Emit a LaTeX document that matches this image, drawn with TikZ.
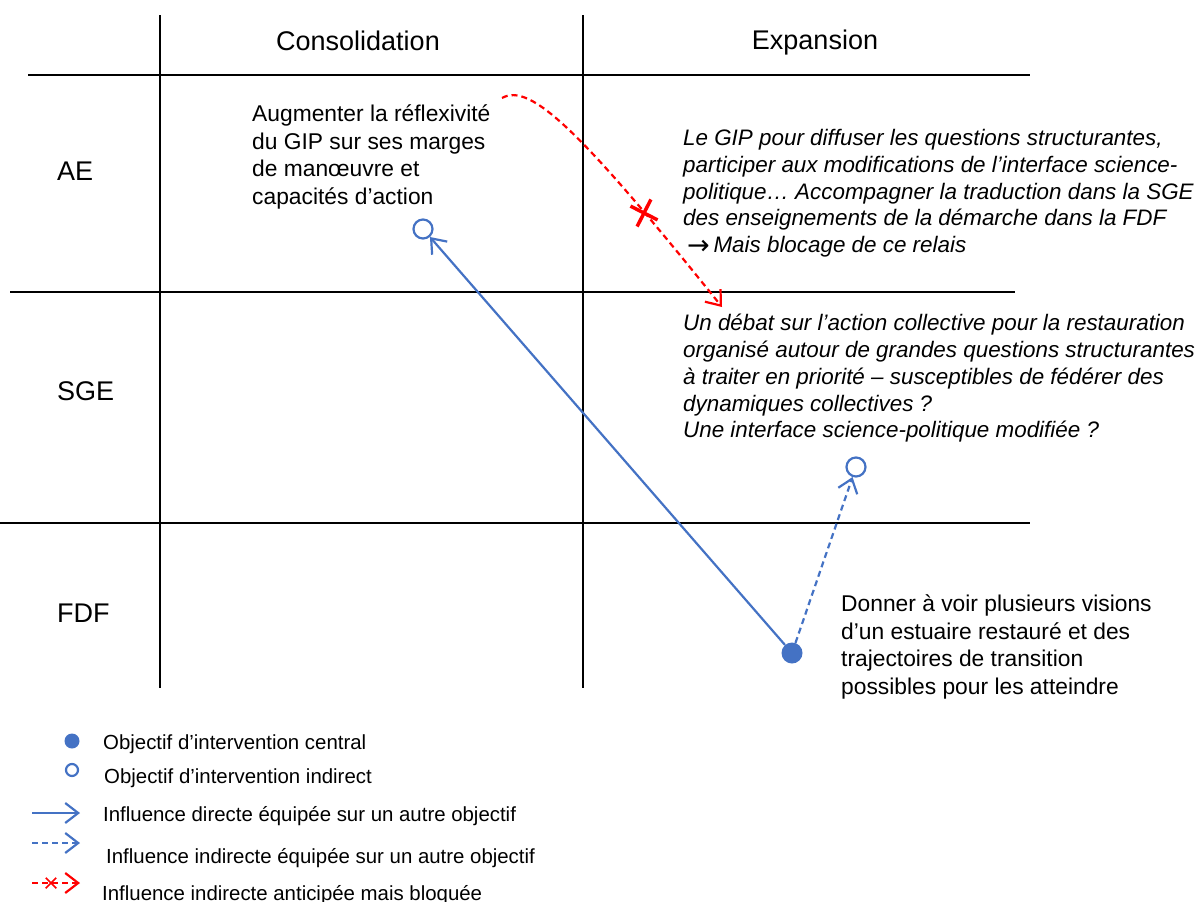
\documentclass[tikz,border=0pt]{standalone}
\usepackage{fontspec}
\setmainfont{Liberation Sans}
\newfontfamily\symfont{DejaVu Sans}
\usetikzlibrary{arrows.meta,shapes.misc}
\definecolor{blu}{RGB}{68,114,196}
\definecolor{rd}{RGB}{255,0,0}
\begin{document}
\begin{tikzpicture}[x=1pt,y=-1pt,
 gridline/.style={line width=2pt,black},
 hdr/.style={font=\fontsize{27}{32}\selectfont,inner sep=0,anchor=base},
 rowlab/.style={font=\fontsize{27}{32}\selectfont,inner sep=0,anchor=base west},
 body/.style={font=\fontsize{22.8}{27.5}\selectfont,inner sep=0,anchor=north west,align=left},
 ibody/.style={font=\fontsize{22.4}{26.8}\selectfont\itshape,inner sep=0,anchor=north west,align=left},
 leg/.style={font=\fontsize{20.4}{24}\selectfont,inner sep=0,anchor=base west},
 opencirc/.style={circle,draw=blu,line width=2.2pt,fill=white,minimum size=19pt,inner sep=0},
 fullcirc/.style={circle,fill=blu,minimum size=21pt,inner sep=0},
 barbtip/.style={-{Straight Barb[length=13pt,width=20pt]}},
 direct/.style={blu,line width=2.2pt,barbtip},
 indirect/.style={blu,line width=2.2pt,dash pattern=on 6pt off 4pt,barbtip},
 blocked/.style={rd,line width=2.2pt,dash pattern=on 6pt off 4pt,barbtip},
 xmark/.style={cross out,draw=rd,line width=3.5pt,minimum size=18pt,inner sep=0,rotate=18},
]
\path[use as bounding box] (0,0) rectangle (1202,902);

% grid
\draw[gridline] (28,75) -- (1030,75);
\draw[gridline] (10,292) -- (1015,292);
\draw[gridline] (0,523) -- (1030,523);
\draw[gridline] (160,15) -- (160,688);
\draw[gridline] (583,15) -- (583,688);

% headers
\node[hdr] (cons) at (358,50) {Consolidation};
\node[hdr] (exp) at (815,49) {Expansion};
\node[rowlab] (ae) at (57,180) {AE};
\node[rowlab] (sge) at (57,400) {SGE};
\node[rowlab] (fdf) at (57,622) {FDF};

% texts
\node[body] (aug) at (252,105) {Augmenter la réflexivité\\du GIP sur ses marges\\de manœuvre et\\capacités d’action};
\node[ibody] (gip) at (683,129) {Le GIP pour diffuser les questions structurantes,\\participer aux modifications de l’interface science-\\politique… Accompagner la traduction dans la SGE\\des enseignements de la démarche dans la FDF\\\hspace{4pt}{\upshape\symfont\fontsize{27}{27}\selectfont\raisebox{-1.5pt}{→}}\,Mais blocage de ce relais};
\node[ibody] (debat) at (683,314) {Un débat sur l’action collective pour la restauration\\organisé autour de grandes questions structurantes\\à traiter en priorité – susceptibles de fédérer des\\dynamiques collectives ?\\Une interface science-politique modifiée ?};
\node[body] (donner) at (841,595) {Donner à voir plusieurs visions\\d’un estuaire restauré et des\\trajectoires de transition\\possibles pour les atteindre};

% objectives
\node[opencirc] (o1) at (423,229) {};
\node[opencirc] (o2) at (856,467) {};
\node[fullcirc] (c1) at (792,653) {};

\draw[direct] (c1) -- (o1);
\draw[indirect] (c1) -- (o2);

\coordinate (rs) at (502,98);
\coordinate (re) at (722,307);
\draw[blocked] (rs) .. controls (530,82) and (580,130) .. (re);
\node[xmark] (xm) at (644,213) {};

% legend
\node[fullcirc,minimum size=15pt] (lc1) at (72,741) {};
\node[opencirc,minimum size=12pt] (lc2) at (72,770) {};
\coordinate (la1) at (32,813); \coordinate (la2) at (80,813);
\coordinate (lb1) at (32,843); \coordinate (lb2) at (80,843);
\coordinate (lr1) at (32,883); \coordinate (lr2) at (80,883);
\draw[direct] (la1) -- (la2);
\draw[indirect] (lb1) -- (lb2);
\draw[blocked] (lr1) -- (lr2);
\node[cross out,draw=rd,line width=1.5pt,minimum size=9pt,inner sep=0] (lx) at (51,883) {};

\node[leg] (t1) at (103,749) {Objectif d’intervention central};
\node[leg] (t2) at (104,783) {Objectif d’intervention indirect};
\node[leg] (t3) at (103,821) {Influence directe équipée sur un autre objectif};
\node[leg] (t4) at (106,863) {Influence indirecte équipée sur un autre objectif};
\node[leg] (t5) at (102,900) {Influence indirecte anticipée mais bloquée};
\end{tikzpicture}
\end{document}
